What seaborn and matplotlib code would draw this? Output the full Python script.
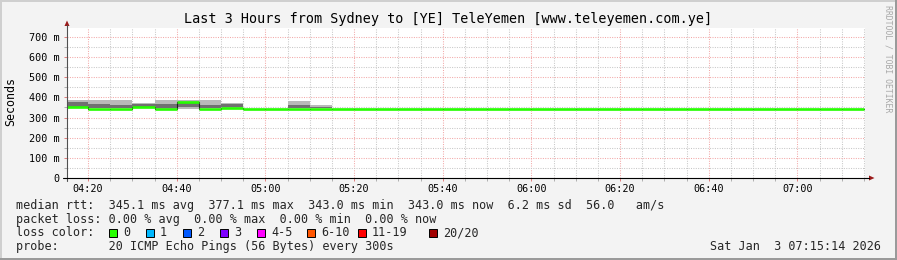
import numpy as np
import pandas as pd
import matplotlib
matplotlib.use("Agg")
import matplotlib.pyplot as plt
import seaborn as sns
from matplotlib.patches import Rectangle, Polygon
from matplotlib.lines import Line2D

# ---------------- data ----------------
title = "Last 3 Hours from Sydney to [YE] TeleYemen [www.teleyemen.com.ye]"
view_start = "04:15:14"
view_end = "07:15:14"

bin_starts = ["04:15", "04:20", "04:25", "04:30", "04:35", "04:40", "04:45", "04:50", "04:55",
              "05:00", "05:05", "05:10", "05:15", "05:20", "05:25", "05:30", "05:35", "05:40",
              "05:45", "05:50", "05:55", "06:00", "06:05", "06:10", "06:15", "06:20", "06:25",
              "06:30", "06:35", "06:40", "06:45", "06:50", "06:55", "07:00", "07:05", "07:10"]
median_ms = [352, 343, 343, 352, 343, 377, 343, 349, 343,
             343, 343, 343, 343, 343, 343, 343, 343, 343,
             343, 343, 343, 343, 343, 343, 343, 343, 343,
             343, 343, 343, 343, 343, 343, 343, 343, 343]

smoke_starts = ["04:15", "04:20", "04:25", "04:30", "04:35", "04:40", "04:45", "04:50", "05:05", "05:10"]
smoke_lo = [348, 345, 345, 347, 340, 340, 345, 347, 345, 345]
smoke_hi = [387, 387, 387, 372, 387, 385, 387, 372, 384, 362]
core_lo = [352, 348, 348, 352, 345, 352, 348, 350, 347, 345]
core_hi = [377, 365, 362, 365, 367, 377, 364, 367, 362, 350]

y_ticks_ms = [0, 100, 200, 300, 400, 500, 600, 700]
y_tick_labels = ["0", "100 m", "200 m", "300 m", "400 m", "500 m", "600 m", "700 m"]
x_tick_labels = ["04:20", "04:40", "05:00", "05:20", "05:40", "06:00", "06:20", "06:40", "07:00"]

legend_rtt = "median rtt:  345.1 ms avg  377.1 ms max  343.0 ms min  343.0 ms now  6.2 ms sd  56.0   am/s"
legend_loss = "packet loss: 0.00 % avg  0.00 % max  0.00 % min  0.00 % now"
loss_labels = ["0", "1", "2", "3", "4-5", "6-10", "11-19", "20/20"]
loss_colors = ["#26ff00", "#00b8ff", "#0059ff", "#7e00ff", "#ff00ff", "#ff5500", "#ff0000", "#a10000"]
probe_text = "probe:       20 ICMP Echo Pings (56 Bytes) every 300s"
stamp_text = "Sat Jan  3 07:15:14 2026"
watermark = "RRDTOOL / TOBI OETIKER"

# ---------------- helpers ----------------
W, H = 897, 260


def to_min(s):
    parts = [int(p) for p in s.split(":")]
    m = parts[0] * 60 + parts[1]
    if len(parts) > 2:
        m += parts[2] / 60.0
    return m


def fx(x):
    return x / W


def fy(y):
    return 1 - y / H


sns.set_theme(style="white")
plt.rcParams["font.family"] = ["DejaVu Sans Mono"]
plt.rcParams["lines.scale_dashes"] = False
MONO = "DejaVu Sans Mono"

fig = plt.figure(figsize=(W / 100, H / 100), dpi=100, facecolor="#f3f3f3")
ax = fig.add_axes([fx(67), fy(178), (865 - 67) / W, (178 - 27.5) / H])
ax.set_facecolor("white")

x0, x1 = to_min(view_start), to_min(view_end)
ax.set_xlim(x0, x1)
ax.set_ylim(0, 747)

# smoke
s_start = np.array([to_min(t) for t in smoke_starts])
ax.bar(s_start, np.array(smoke_hi) - np.array(smoke_lo), bottom=smoke_lo, width=5,
       align="edge", color="#b9b9b9", linewidth=0, zorder=2)
ax.bar(s_start, np.array(core_hi) - np.array(core_lo), bottom=core_lo, width=5,
       align="edge", color="#707070", linewidth=0, zorder=2.1)

# median
b_start = np.array([to_min(t) for t in bin_starts])
b_end = b_start + 5
df = pd.DataFrame({"t": np.append(b_start, b_end[-1]),
                   "m": np.append(median_ms, median_ms[-1])})
sns.lineplot(data=df, x="t", y="m", ax=ax, drawstyle="steps-post", color="#202020",
             linewidth=0.8, zorder=3)
ax.hlines(median_ms, b_start, b_end, color="#26ff00", linewidth=1.9, zorder=4)
ax.set_xlabel("")
ax.set_ylabel("")

# ticks & grid
ax.set_yticks(y_ticks_ms)
ax.set_yticklabels(y_tick_labels)
ax.set_yticks(np.arange(50, 700, 100), minor=True)
ax.set_xticks([to_min(t) for t in x_tick_labels])
ax.set_xticklabels(x_tick_labels)
ax.set_xticks(np.arange(to_min("04:20"), x1, 5), minor=True)

dots = (0, (0.72, 1.0))
ax.grid(which="major", color="#f2a6a6", linestyle=dots, linewidth=0.75, zorder=1)
ax.grid(which="minor", color="#c6c6c6", linestyle=dots, linewidth=0.75, zorder=1)
ax.set_axisbelow(True)

ax.tick_params(axis="both", which="both", direction="out", length=2.2, width=0.72,
               labelsize=7.3, labelcolor="#000000")
ax.tick_params(axis="both", which="major", color="#e08080")
ax.tick_params(axis="both", which="minor", color="#b0b0b0")
ax.tick_params(axis="y", which="both", left=True, pad=2.9)
ax.tick_params(axis="x", which="both", bottom=True, pad=1.8)
for lab in ax.get_xticklabels() + ax.get_yticklabels():
    lab.set_family(MONO)

for s in ["top", "right", "left", "bottom"]:
    ax.spines[s].set_visible(False)

# axis lines with arrows (figure pixel coords)
fig.add_artist(Line2D([fx(67), fx(67)], [fy(181), fy(25)], color="#505050", linewidth=0.8))
fig.add_artist(Line2D([fx(63), fx(869)], [fy(178), fy(178)], color="#000000", linewidth=0.8))
fig.add_artist(Polygon([[fx(64.5), fy(26)], [fx(69.5), fy(26)], [fx(67), fy(20.5)]],
                       closed=True, facecolor="#9a1a1a", edgecolor="none"))
fig.add_artist(Polygon([[fx(869), fy(175.5)], [fx(869), fy(180.5)], [fx(874.5), fy(178)]],
                       closed=True, facecolor="#9a1a1a", edgecolor="none"))

# texts
fig.text(fx(448.5), fy(23.3), title, ha="center", va="baseline", fontsize=9.75,
         family=MONO, color="#000000")
fig.text(fx(11), fy(102), "Seconds", rotation=90, ha="center", va="center",
         fontsize=8.4, family=MONO, color="#000000")
fig.text(fx(888), fy(59), watermark, rotation=270, ha="center", va="center",
         fontsize=5.9, family=MONO, color="#a8a8a8")

LS = 8.5
fig.text(fx(16), fy(208.5), legend_rtt, ha="left", va="baseline", fontsize=LS, family=MONO)
fig.text(fx(16), fy(222.5), legend_loss, ha="left", va="baseline", fontsize=LS, family=MONO)
fig.text(fx(16), fy(236.3), "loss color:", ha="left", va="baseline", fontsize=LS, family=MONO)
box_x = [108.5, 145.5, 182.5, 219.5, 256.5, 306.5, 357.5, 429.0]
for bx, lab, col in zip(box_x, loss_labels, loss_colors):
    fig.add_artist(Rectangle((fx(bx), fy(236.5)), 8 / W, 8 / H, facecolor=col,
                             edgecolor="#000000", linewidth=0.7))
    fig.text(fx(bx + 14.5), fy(236.3), lab, ha="left", va="baseline", fontsize=LS, family=MONO)
fig.text(fx(16), fy(250.3), probe_text, ha="left", va="baseline", fontsize=LS, family=MONO)
fig.text(fx(880.5), fy(250.3), stamp_text, ha="right", va="baseline", fontsize=LS, family=MONO)

# frame
fig.add_artist(Rectangle((0, fy(1.5)), 1, 1.5 / H, facecolor="#cfcfcf", edgecolor="none"))
fig.add_artist(Rectangle((0, 0), 1.5 / W, 1, facecolor="#cfcfcf", edgecolor="none"))
fig.add_artist(Rectangle((0, 0), 1, 2 / H, facecolor="#9a9a9a", edgecolor="none"))
fig.add_artist(Rectangle((fx(895), 0), 2 / W, 1, facecolor="#9a9a9a", edgecolor="none"))

fig.savefig("out.png", dpi=100, facecolor=fig.get_facecolor())
